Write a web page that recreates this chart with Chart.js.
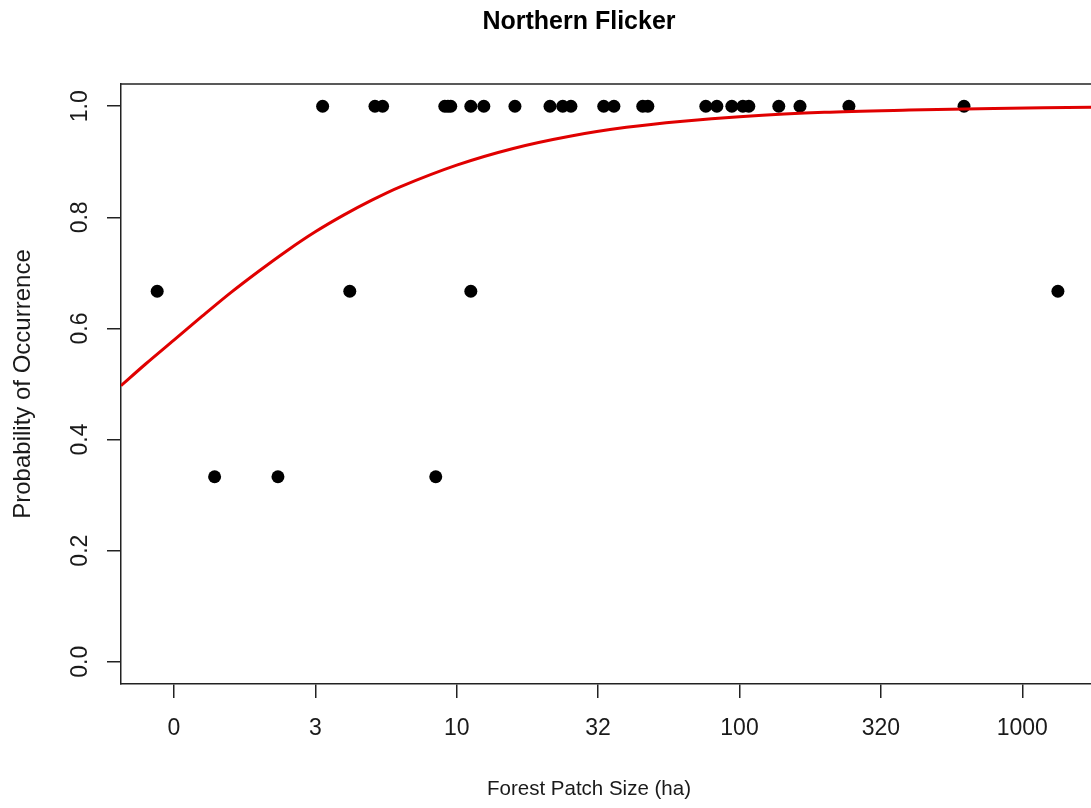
<!DOCTYPE html>
<html>
<head>
<meta charset="utf-8">
<title>Northern Flicker</title>
<script src="https://cdn.jsdelivr.net/npm/chart.js@4/dist/chart.umd.min.js"></script>
<style>
  html, body { margin: 0; padding: 0; background: #fff; overflow: hidden; }
  canvas { display: block; }
</style>
</head>
<body>
<canvas id="flickerChart" width="1091" height="808"></canvas>
<script>
// patch size on log10 scale, observed occurrence
const patchSizeLog = [
  -0.059, 0.622, 1.050, 3.126,
  0.144, 0.368, 0.926,
  0.526, 0.711, 0.738, 0.958, 0.969, 0.979, 1.050, 1.096, 1.206, 1.330,
  1.375, 1.404, 1.520, 1.556, 1.658, 1.676, 1.881, 1.920, 1.973, 2.012,
  2.033, 2.139, 2.214, 2.387, 2.794
];
const occurrence = [
  0.667, 0.667, 0.667, 0.667,
  0.333, 0.333, 0.333,
  1, 1, 1, 1, 1, 1, 1, 1, 1, 1,
  1, 1, 1, 1, 1, 1, 1, 1, 1, 1,
  1, 1, 1, 1, 1
];

// fitted curve
const curveX = [-0.187, -0.1, 0, 0.1, 0.2, 0.3, 0.4, 0.5, 0.6, 0.7, 0.8, 1.0, 1.2, 1.4, 1.6, 1.8, 2.0, 2.3, 2.6, 2.9, 3.25];
const curveY = [0.497, 0.536, 0.579, 0.622, 0.664, 0.703, 0.740, 0.774, 0.804, 0.831, 0.855, 0.894, 0.924, 0.946, 0.962, 0.973, 0.981, 0.989, 0.993, 0.996, 0.998];

const xTickValues = [0, 0.5, 1, 1.5, 2, 2.5, 3];
const xTickLabels = ['0', '3', '10', '32', '100', '320', '1000'];
const yTickValues = [0, 0.2, 0.4, 0.6, 0.8, 1.0];

const axisColor = '#222';

const textPlugin = {
  id: 'rTexts',
  afterDraw(chart) {
    const ctx = chart.ctx;
    const area = chart.chartArea;
    ctx.save();
    // top edge of the box
    ctx.strokeStyle = axisColor;
    ctx.lineWidth = 1.5;
    ctx.beginPath();
    ctx.moveTo(area.left, area.top);
    ctx.lineTo(area.right, area.top);
    ctx.stroke();

    ctx.fillStyle = '#000';
    ctx.textBaseline = 'alphabetic';
    ctx.textAlign = 'center';
    ctx.font = 'bold 25px "Liberation Sans", Arial, sans-serif';
    ctx.fillText('Northern Flicker', 579, 28.5);
    ctx.fillStyle = '#1a1a1a';
    ctx.font = '20.5px "Liberation Sans", Arial, sans-serif';
    ctx.fillText('Forest Patch Size (ha)', 589, 795);
    ctx.restore();
  }
};

const pointData = patchSizeLog.map(function (x, i) { return { x: x, y: occurrence[i] }; });
const curveData = curveX.map(function (x, i) { return { x: x, y: curveY[i] }; });

new Chart(document.getElementById('flickerChart').getContext('2d'), {
  type: 'scatter',
  data: {
    datasets: [{
      label: 'Fit',
      data: curveData,
      showLine: true,
      borderColor: '#e00000',
      borderWidth: 3,
      pointRadius: 0,
      tension: 0.3,
      order: 0
    }, {
      label: 'Observed',
      data: pointData,
      backgroundColor: '#000',
      borderColor: '#000',
      pointRadius: 6.5,
      borderWidth: 0,
      order: 1
    }]
  },
  options: {
    responsive: false,
    animation: false,
    layout: { autoPadding: false, padding: { top: 84, right: 0, left: 0, bottom: 0 } },
    plugins: {
      legend: { display: false },
      tooltip: { enabled: false }
    },
    scales: {
      x: {
        type: 'linear',
        min: -0.187,
        max: 3.243,
        afterBuildTicks: function (scale) {
          scale.ticks = xTickValues.map(function (v) { return { value: v }; });
        },
        afterFit: function (scale) {
          scale.height = 124;
          scale.paddingLeft = 0;
          scale.paddingRight = 0;
        },
        ticks: {
          autoSkip: false,
          maxRotation: 0,
          padding: 17,
          color: '#1a1a1a',
          font: { family: '"Liberation Sans", Arial, sans-serif', size: 23 },
          callback: function (value) {
            const i = xTickValues.indexOf(value);
            return i >= 0 ? xTickLabels[i] : '';
          }
        },
        grid: {
          drawOnChartArea: false,
          drawTicks: true,
          tickLength: 14,
          color: axisColor,
          lineWidth: 1.5
        },
        border: { display: true, color: axisColor, width: 1.5 }
      },
      y: {
        type: 'linear',
        min: -0.04,
        max: 1.04,
        afterBuildTicks: function (scale) {
          scale.ticks = yTickValues.map(function (v) { return { value: v }; });
        },
        afterFit: function (scale) {
          scale.width = 121;
          scale.paddingTop = 0;
          scale.paddingBottom = 0;
        },
        ticks: {
          autoSkip: false,
          minRotation: 90,
          maxRotation: 90,
          crossAlign: 'center',
          padding: 10,
          color: '#1a1a1a',
          font: { family: '"Liberation Sans", Arial, sans-serif', size: 23 },
          callback: function (value) { return value.toFixed(1); }
        },
        grid: {
          drawOnChartArea: false,
          drawTicks: true,
          tickLength: 14,
          color: axisColor,
          lineWidth: 1.5
        },
        border: { display: true, color: axisColor, width: 1.5 },
        title: {
          display: true,
          text: 'Probability of Occurrence',
          color: '#1a1a1a',
          padding: { top: 9, bottom: 0 },
          font: { family: '"Liberation Sans", Arial, sans-serif', size: 24 }
        }
      }
    }
  },
  plugins: [textPlugin]
});
</script>
</body>
</html>
